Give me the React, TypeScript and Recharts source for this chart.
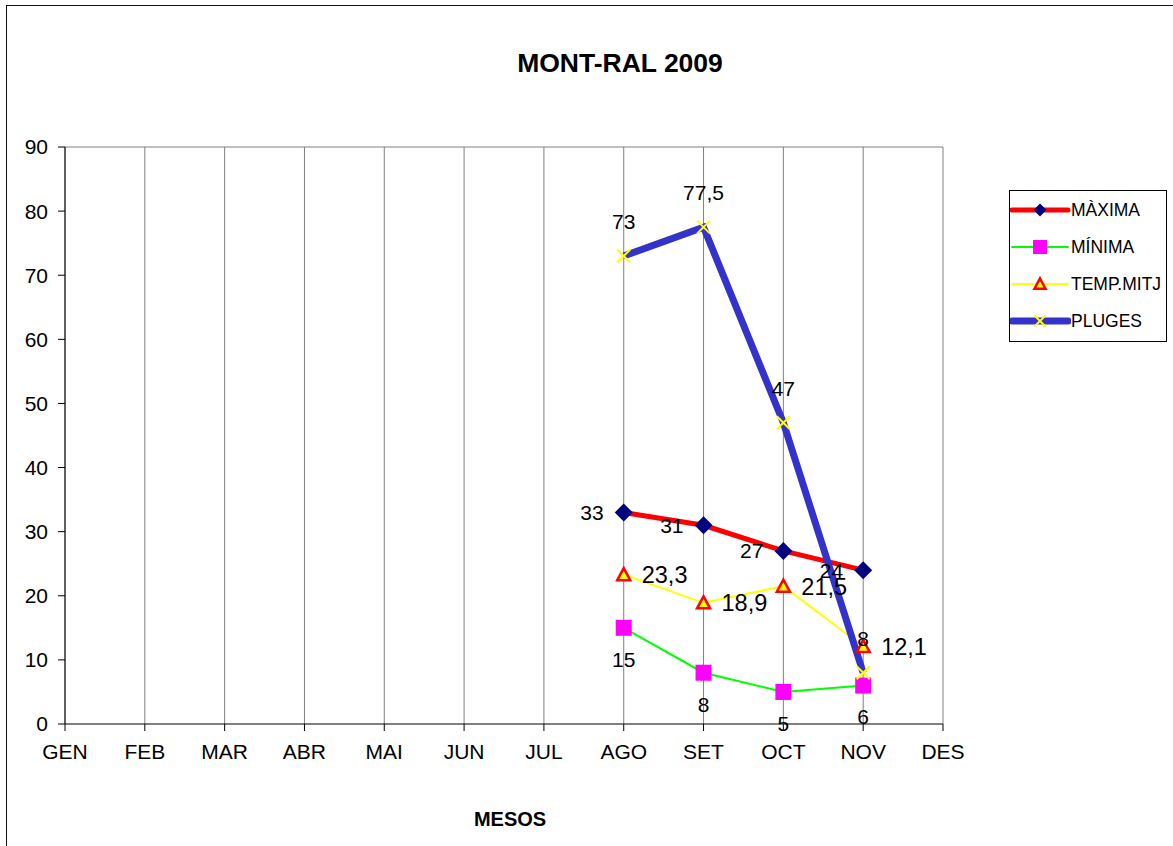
import React from 'react';
import { LineChart, Line, XAxis, YAxis, CartesianGrid, LabelList, Legend, ReferenceLine, Customized } from 'recharts';

const months = ['GEN', 'FEB', 'MAR', 'ABR', 'MAI', 'JUN', 'JUL', 'AGO', 'SET', 'OCT', 'NOV', 'DES'];
const maxima: (number | null)[] = [null, null, null, null, null, null, null, 33, 31, 27, 24, null];
const minima: (number | null)[] = [null, null, null, null, null, null, null, 15, 8, 5, 6, null];
const tempMitj: (number | null)[] = [null, null, null, null, null, null, null, 23.3, 18.9, 21.5, 12.1, null];
const pluges: (number | null)[] = [null, null, null, null, null, null, null, 73, 77.5, 47, 8, null];
const yTicks = [0, 10, 20, 30, 40, 50, 60, 70, 80, 90];

const data = months.map((m, i) => ({
  month: m,
  maxima: maxima[i],
  minima: minima[i],
  temp: tempMitj[i],
  pluges: pluges[i],
}));

const FONT = '"Liberation Sans", Arial, Helvetica, sans-serif';
const fmt = (v: any) => (v == null ? '' : String(v).replace('.', ','));

const Diamond = ({ cx, cy, r = 9 }: any) => (
  <polygon points={`${cx},${cy - r} ${cx + r},${cy} ${cx},${cy + r} ${cx - r},${cy}`} fill="#000080" />
);
const Square = ({ cx, cy, r = 8 }: any) => <rect x={cx - r} y={cy - r} width={2 * r} height={2 * r} fill="#FF00FF" />;
const Triangle = ({ cx, cy, r = 6.5 }: any) => (
  <polygon
    points={`${cx},${cy - r} ${cx + r},${cy + r * 0.85} ${cx - r},${cy + r * 0.85}`}
    fill="#FFFF00"
    stroke="#FF0000"
    strokeWidth={2.5}
  />
);
const Cross = ({ cx, cy, r = 6.5 }: any) => (
  <g stroke="#FFFF00" strokeWidth={2}>
    <line x1={cx - r} y1={cy - r} x2={cx + r} y2={cy + r} />
    <line x1={cx - r} y1={cy + r} x2={cx + r} y2={cy - r} />
  </g>
);

const mkDot = (Comp: any) => (props: any) => {
  const { cx, cy, index, value } = props;
  if (cx == null || cy == null || value == null || (Array.isArray(value) && value[1] == null)) return <g key={`d${index}`} />;
  return <Comp key={`d${index}`} cx={cx} cy={cy} />;
};

const legendItems = [
  { name: 'MÀXIMA', color: '#FF0000', width: 5, Marker: Diamond, r: 6.5 },
  { name: 'MÍNIMA', color: '#00FF00', width: 2, Marker: Square, r: 7 },
  { name: 'TEMP.MITJ', color: '#FFFF00', width: 2, Marker: Triangle, r: 5.5 },
  { name: 'PLUGES', color: '#3333CC', width: 7, Marker: Cross, r: 5.5 },
];

const LegendBox = () => (
  <div
    style={{
      width: 158,
      height: 152,
      boxSizing: 'border-box',
      border: '1px solid #000',
      background: '#fff',
      position: 'relative',
      fontFamily: FONT,
      fontSize: 17.5,
      color: '#000',
    }}
  >
    {legendItems.map((it, i) => (
      <div
        key={it.name}
        style={{ position: 'absolute', left: 0, top: 19 + 37 * i - 12, height: 24, display: 'flex', alignItems: 'center', whiteSpace: 'nowrap' }}
      >
        <svg width={61} height={24} style={{ display: 'block' }}>
          <line x1={2} y1={12} x2={58} y2={12} stroke={it.color} strokeWidth={it.width} strokeLinecap="round" />
          <it.Marker cx={30} cy={12} r={it.r} />
        </svg>
        <span style={{ lineHeight: '24px' }}>{it.name}</span>
      </div>
    ))}
  </div>
);

const Title = () => (
  <text x={620} y={72} textAnchor="middle" fontFamily={FONT} fontWeight="bold" fontSize={26.5} fill="#000">
    MONT-RAL 2009
  </text>
);

export default function App() {
  const labelStyle = { fill: '#000', fontFamily: FONT, fontSize: 21 };
  return (
    <div style={{ position: 'absolute', left: 0, top: 0, width: 1173, height: 846, background: '#fff', overflow: 'hidden' }}>
      <div
        style={{
          position: 'absolute',
          left: 6,
          top: 5,
          width: 1200,
          height: 900,
          borderLeft: '1px solid #111',
          borderTop: '1px solid #111',
        }}
      />
      <div style={{ position: 'absolute', left: 0, top: 0 }}>
        <LineChart width={1173} height={846} data={data} margin={{ top: 147, right: 230, left: 0, bottom: 0 }}>
          <CartesianGrid horizontal={false} stroke="#808080" strokeWidth={1} />
          <ReferenceLine y={90} stroke="#808080" strokeWidth={1} />
          <XAxis
            dataKey="month"
            interval={0}
            height={122}
            tickSize={7}
            tickMargin={13}
            axisLine={{ stroke: '#000' }}
            tickLine={{ stroke: '#000' }}
            tick={{ fill: '#000', fontFamily: FONT, fontSize: 21 }}
            label={{ value: 'MESOS', position: 'insideBottom', offset: 20, dx: 6, fill: '#000', fontFamily: FONT, fontSize: 20, fontWeight: 'bold' }}
          />
          <YAxis
            domain={[0, 90]}
            ticks={yTicks}
            width={65}
            tickSize={7}
            tickMargin={10}
            axisLine={{ stroke: '#000' }}
            tickLine={{ stroke: '#000' }}
            tick={{ fill: '#000', fontFamily: FONT, fontSize: 21 }}
          />
          <Legend layout="vertical" align="center" verticalAlign="middle" wrapperStyle={{ left: 1009, top: 190, width: 158, height: 152 }} content={() => <LegendBox />} />
          <Line dataKey="maxima" name="MÀXIMA" stroke="#FF0000" strokeWidth={5} dot={mkDot(Diamond)} activeDot={false} isAnimationActive={false}>
            <LabelList dataKey="maxima" position="left" offset={20} formatter={fmt} {...labelStyle} />
          </Line>
          <Line dataKey="minima" name="MÍNIMA" stroke="#00FF00" strokeWidth={2} dot={mkDot(Square)} activeDot={false} isAnimationActive={false}>
            <LabelList dataKey="minima" position="bottom" offset={24} formatter={fmt} {...labelStyle} />
          </Line>
          <Line dataKey="temp" name="TEMP.MITJ" stroke="#FFFF00" strokeWidth={2} dot={mkDot(Triangle)} activeDot={false} isAnimationActive={false}>
            <LabelList dataKey="temp" position="right" offset={18} formatter={fmt} {...labelStyle} fontSize={23.5} />
          </Line>
          <Line dataKey="pluges" name="PLUGES" stroke="#3333CC" strokeWidth={7} dot={mkDot(Cross)} activeDot={false} isAnimationActive={false}>
            <LabelList dataKey="pluges" position="top" offset={27} formatter={fmt} {...labelStyle} />
          </Line>
          <Customized component={Title} />
        </LineChart>
      </div>
    </div>
  );
}
